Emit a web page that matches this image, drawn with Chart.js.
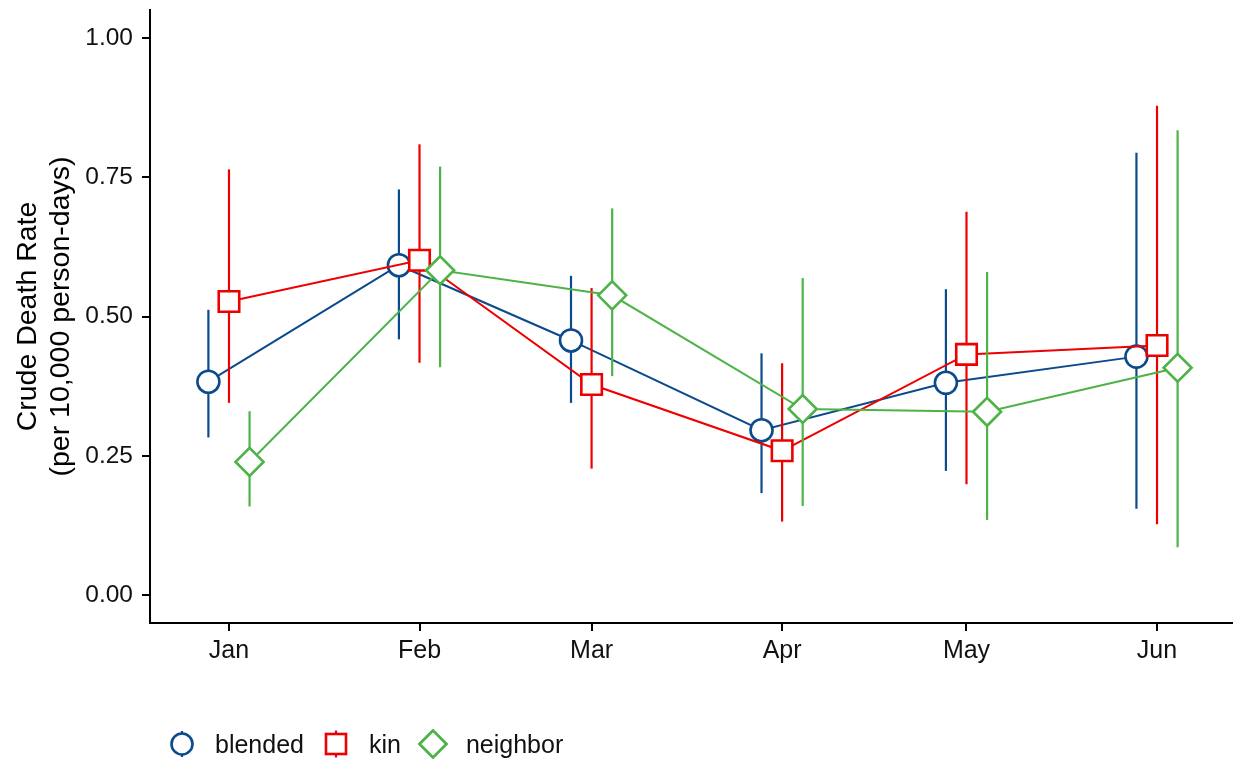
<!DOCTYPE html>
<html>
<head>
<meta charset="utf-8">
<script src="https://cdn.jsdelivr.net/npm/chart.js@4"></script>
<style>
  body { margin: 0; background: #fff; font-family: "Liberation Sans", Arial, sans-serif; }
  #wrap { position: relative; width: 1238px; height: 764px; }
  #legend { position: absolute; left: 167px; top: 729px; display: flex; align-items: center; font-size: 25px; color: #111; }
  #legend .item { display: flex; align-items: center; margin-right: 17px; }
  #legend svg { margin-right: 18px; }
</style>
</head>
<body>
<div id="wrap">
  <canvas id="graph"></canvas>
  <div id="legend"></div>
</div>
<script>
// month starts as day-of-year (0 = 1 Jan)
const monthDays = [0, 31, 59, 90, 120, 151];
const monthLabels = ['Jan', 'Feb', 'Mar', 'Apr', 'May', 'Jun'];
const yTicks = [0, 0.25, 0.5, 0.75, 1.0];

const blended = [0.383, 0.592, 0.457, 0.296, 0.381, 0.428];
const blendedLow = [0.283, 0.459, 0.345, 0.183, 0.223, 0.155];
const blendedHigh = [0.512, 0.728, 0.573, 0.434, 0.549, 0.794];

const kin = [0.527, 0.601, 0.378, 0.259, 0.432, 0.448];
const kinLow = [0.345, 0.417, 0.227, 0.132, 0.199, 0.127];
const kinHigh = [0.764, 0.809, 0.551, 0.416, 0.688, 0.878];

const neighbor = [0.239, 0.583, 0.538, 0.334, 0.329, 0.408];
const neighborLow = [0.159, 0.409, 0.393, 0.160, 0.135, 0.086];
const neighborHigh = [0.330, 0.769, 0.694, 0.569, 0.580, 0.834];

const BLUE = '#0b4b8c';
const RED = '#ee0000';
const GREEN = '#4db347';
const DODGE = 3.35; // days

function pts(vals, shift) {
    return vals.map((v, i) => ({ x: monthDays[i] + shift, y: v }));
}

function series(label, vals, low, high, shift, color, style, radius, order) {
    return {
        label: label,
        data: pts(vals, shift),
        low: low,
        high: high,
        borderColor: color,
        backgroundColor: '#fff',
        borderWidth: 2,
        pointStyle: style,
        pointRadius: radius,
        pointHoverRadius: radius,
        pointBorderWidth: 2.6,
        pointBackgroundColor: '#fff',
        pointBorderColor: color,
        tension: 0,
        order: order,
    };
}

// draws the vertical interval lines under each dataset
const errorBars = {
    id: 'errorBars',
    beforeDatasetDraw(chart, args) {
        const ds = chart.data.datasets[args.index];
        const meta = args.meta;
        const y = chart.scales.y;
        const c = chart.ctx;
        c.save();
        c.strokeStyle = ds.borderColor;
        c.lineWidth = 2.2;
        meta.data.forEach((p, j) => {
            c.beginPath();
            c.moveTo(p.x, y.getPixelForValue(ds.low[j]));
            c.lineTo(p.x, y.getPixelForValue(ds.high[j]));
            c.stroke();
        });
        c.restore();
    }
};

// tick labels don't push the plot box, layout padding sets it
function noPad(axis) {
    axis.paddingLeft = 0;
    axis.paddingRight = 0;
    axis.paddingTop = 0;
    axis.paddingBottom = 0;
}

const ctx = document.getElementById('graph').getContext('2d');
const chart = new Chart(ctx, {
    type: 'line',
    data: {
        datasets: [
            series('blended', blended, blendedLow, blendedHigh, -DODGE, BLUE, 'circle', 11, 3),
            series('kin', kin, kinLow, kinHigh, 0, RED, 'rect', 14.5, 2),
            series('neighbor', neighbor, neighborLow, neighborHigh, DODGE, GREEN, 'rectRot', 14, 1),
        ],
    },
    options: {
        responsive: true,
        maintainAspectRatio: false,
        animation: false,
        layout: { autoPadding: false, padding: { left: 0, right: 6, top: 10, bottom: 81 } },
        plugins: {
            legend: { display: false },
            tooltip: { enabled: false },
        },
        scales: {
            x: {
                type: 'linear',
                min: -12.85,
                max: 163.2,
                afterBuildTicks: (axis) => { axis.ticks = monthDays.map(v => ({ value: v })); },
                afterFit: (axis) => { axis.height = 60; noPad(axis); },
                ticks: {
                    font: { family: 'Liberation Sans', size: 25 },
                    color: '#111',
                    padding: 5,
                    maxRotation: 0,
                    callback: (v) => monthLabels[monthDays.indexOf(v)],
                },
                grid: { display: true, drawOnChartArea: false, drawTicks: true, tickLength: 8, color: '#000', lineWidth: 2 },
                border: { display: true, color: '#000', width: 2 },
            },
            y: {
                min: -0.05,
                max: 1.05,
                afterBuildTicks: (axis) => { axis.ticks = yTicks.map(v => ({ value: v })); },
                afterFit: (axis) => { axis.width = 150; noPad(axis); },
                ticks: {
                    font: { family: 'Liberation Sans', size: 24.5 },
                    color: '#111',
                    padding: 9,
                    callback: (v) => v.toFixed(2),
                },
                title: {
                    display: true,
                    text: ['Crude Death Rate', '(per 10,000 person-days)'],
                    font: { family: 'Liberation Sans', size: 28.5, lineHeight: 1.17 },
                    color: '#000',
                    padding: { top: 11, bottom: 0 },
                },
                grid: { display: true, drawOnChartArea: false, drawTicks: true, tickLength: 8, color: '#000', lineWidth: 2 },
                border: { display: true, color: '#000', width: 2 },
            },
        },
    },
    plugins: [errorBars],
});

// legend built from the datasets
const icons = {
    circle: (c) => `<circle cx="15" cy="15" r="10.5" fill="#fff" stroke="${c}" stroke-width="2.6"/>
        <line x1="15" y1="2" x2="15" y2="4.5" stroke="${c}" stroke-width="2.2"/><line x1="15" y1="25.5" x2="15" y2="28" stroke="${c}" stroke-width="2.2"/>`,
    rect: (c) => `<rect x="5" y="5" width="20" height="20" fill="#fff" stroke="${c}" stroke-width="2.6"/>
        <line x1="15" y1="1.5" x2="15" y2="5" stroke="${c}" stroke-width="2.2"/><line x1="15" y1="25" x2="15" y2="28.5" stroke="${c}" stroke-width="2.2"/>`,
    rectRot: (c) => `<polygon points="15,1.5 28.5,15 15,28.5 1.5,15" fill="#fff" stroke="${c}" stroke-width="2.8"/>`,
};
const legendEl = document.getElementById('legend');
chart.data.datasets.forEach(ds => {
    const item = document.createElement('div');
    item.className = 'item';
    item.innerHTML = `<svg width="30" height="30">${icons[ds.pointStyle](ds.borderColor)}</svg><span>${ds.label}</span>`;
    legendEl.appendChild(item);
});
</script>
</body>
</html>
